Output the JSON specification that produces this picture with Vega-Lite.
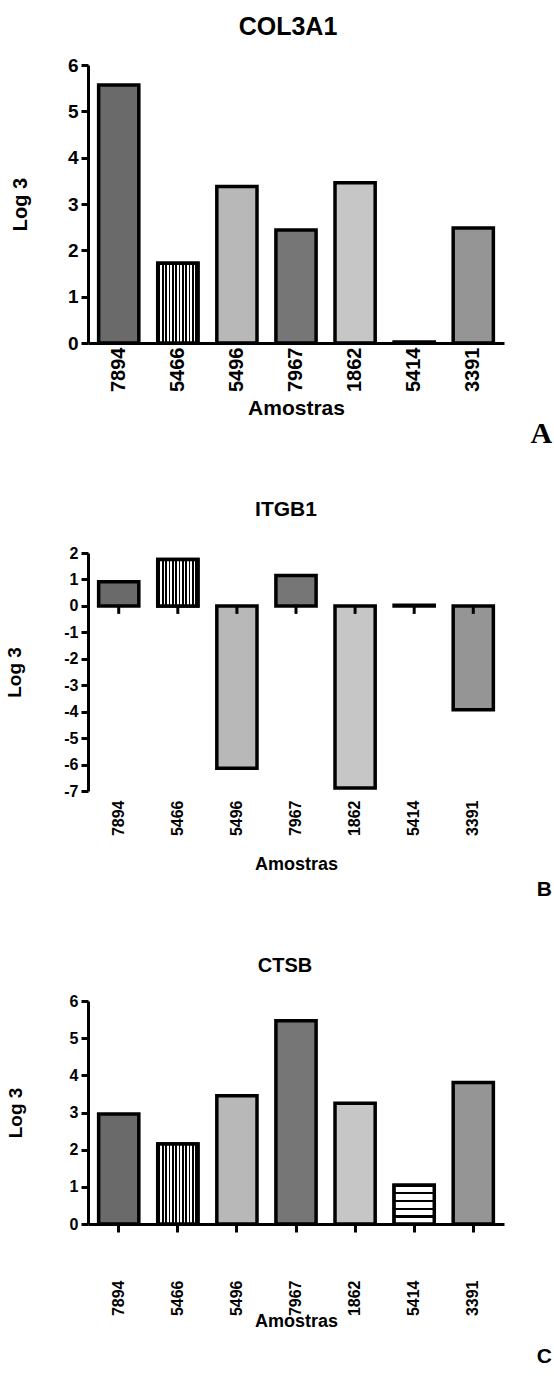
{
  "$schema": "https://vega.github.io/schema/vega-lite/v6.json",
  "padding": {"left": 5, "top": 15, "right": 0, "bottom": 5},
  "background": "white",
  "config": {
    "view": {"stroke": null},
    "font": "Liberation Sans",
    "axis": {
      "labelFont": "Liberation Sans", "labelFontWeight": "bold", "labelColor": "black", "labelOverlap": false,
      "titleFont": "Liberation Sans", "titleFontWeight": "bold", "titleColor": "black",
      "domainColor": "black", "domainWidth": 3, "tickColor": "black", "tickWidth": 3, "grid": false
    },
    "title": {"font": "Liberation Sans", "fontWeight": "bold", "color": "black", "anchor": "middle", "frame": "group"}
  },
  "datasets": {
    "col3a1": [
      {"sample": "7894", "value": 5.57},
      {"sample": "5466", "value": 1.72},
      {"sample": "5496", "value": 3.38},
      {"sample": "7967", "value": 2.44},
      {"sample": "1862", "value": 3.46},
      {"sample": "5414", "value": 0.02},
      {"sample": "3391", "value": 2.48}
    ],
    "itgb1": [
      {"sample": "7894", "value": 0.91},
      {"sample": "5466", "value": 1.75},
      {"sample": "5496", "value": -6.14},
      {"sample": "7967", "value": 1.15},
      {"sample": "1862", "value": -6.89},
      {"sample": "5414", "value": 0.02},
      {"sample": "3391", "value": -3.93}
    ],
    "ctsb": [
      {"sample": "7894", "value": 2.96},
      {"sample": "5466", "value": 2.15},
      {"sample": "5496", "value": 3.45},
      {"sample": "7967", "value": 5.47},
      {"sample": "1862", "value": 3.25},
      {"sample": "5414", "value": 1.04},
      {"sample": "3391", "value": 3.81}
    ]
  },
  "bounds": "flush",
  "spacing": 210,
  "vconcat": [
    {
      "width": 416, "height": 278,
      "title": {"text": "COL3A1", "fontSize": 25, "offset": 16, "dx": -8},
      "layer": [
        {
          "data": {"name": "col3a1"},
          "mark": {"type": "bar", "stroke": "black", "strokeWidth": 3.5},
          "encoding": {
            "x": {"field": "sample", "type": "nominal",
              "scale": {"domain": ["7894","5466","5496","7967","1862","5414","3391"], "paddingInner": 0.32, "paddingOuter": 0.18},
              "axis": {"title": "Amostras", "labelAngle": -90, "labelFontSize": 20, "ticks": false, "tickSize": 0, "labelPadding": 4, "titleFontSize": 21, "titlePadding": 6}},
            "y": {"field": "value", "type": "quantitative",
              "scale": {"domain": [0, 6], "nice": false},
              "axis": {"title": "Log 3", "values": [0,1,2,3,4,5,6], "tickCount": 7, "labelOverlap": false, "labelFontSize": 19, "tickSize": 7, "labelPadding": 3, "titleFontSize": 20, "titlePadding": 37}},
            "fill": {"field": "sample", "type": "nominal", "legend": null,
              "scale": {"domain": ["7894","5466","5496","7967","1862","5414","3391"],
                "range": ["#6a6a6a", "#ffffff", "#b8b8b8", "#767676", "#c6c6c6", "#888888", "#959595"]}}
          }
        },
        {
          "data": {"name": "col3a1"},
          "transform": [{"filter": "datum.sample == '5466'"}],
          "mark": {"type": "bar", "stroke": "black", "strokeWidth": 3.5,
            "fill": {"gradient": "linear", "x1": 0, "y1": 0, "x2": 1, "y2": 0, "stops": [
              {"offset": 0, "color": "white"},
              {"offset": 0.0217, "color": "white"}, {"offset": 0.0217, "color": "black"}, {"offset": 0.0617, "color": "black"}, {"offset": 0.0617, "color": "white"},
              {"offset": 0.105, "color": "white"}, {"offset": 0.105, "color": "black"}, {"offset": 0.145, "color": "black"}, {"offset": 0.145, "color": "white"},
              {"offset": 0.1883, "color": "white"}, {"offset": 0.1883, "color": "black"}, {"offset": 0.2283, "color": "black"}, {"offset": 0.2283, "color": "white"},
              {"offset": 0.2717, "color": "white"}, {"offset": 0.2717, "color": "black"}, {"offset": 0.3117, "color": "black"}, {"offset": 0.3117, "color": "white"},
              {"offset": 0.355, "color": "white"}, {"offset": 0.355, "color": "black"}, {"offset": 0.395, "color": "black"}, {"offset": 0.395, "color": "white"},
              {"offset": 0.4383, "color": "white"}, {"offset": 0.4383, "color": "black"}, {"offset": 0.4783, "color": "black"}, {"offset": 0.4783, "color": "white"},
              {"offset": 0.5217, "color": "white"}, {"offset": 0.5217, "color": "black"}, {"offset": 0.5617, "color": "black"}, {"offset": 0.5617, "color": "white"},
              {"offset": 0.605, "color": "white"}, {"offset": 0.605, "color": "black"}, {"offset": 0.645, "color": "black"}, {"offset": 0.645, "color": "white"},
              {"offset": 0.6883, "color": "white"}, {"offset": 0.6883, "color": "black"}, {"offset": 0.7283, "color": "black"}, {"offset": 0.7283, "color": "white"},
              {"offset": 0.7717, "color": "white"}, {"offset": 0.7717, "color": "black"}, {"offset": 0.8117, "color": "black"}, {"offset": 0.8117, "color": "white"},
              {"offset": 0.855, "color": "white"}, {"offset": 0.855, "color": "black"}, {"offset": 0.895, "color": "black"}, {"offset": 0.895, "color": "white"},
              {"offset": 0.9383, "color": "white"}, {"offset": 0.9383, "color": "black"}, {"offset": 0.9783, "color": "black"}, {"offset": 0.9783, "color": "white"},
              {"offset": 1, "color": "white"}
            ]}},
          "encoding": {
            "x": {"field": "sample", "type": "nominal"},
            "y": {"field": "value", "type": "quantitative"}
          }
        },
        {
          "data": {"values": [{"letter": "A"}]},
          "mark": {"type": "text", "font": "Liberation Serif", "fontWeight": "bold", "fontSize": 30, "align": "center", "baseline": "middle", "dx": 68, "dy": 91},
          "encoding": {
            "x": {"datum": "3391", "type": "nominal"},
            "y": {"datum": 0, "type": "quantitative"},
            "text": {"field": "letter"}
          }
        }
      ]
    },
    {
      "width": 416, "height": 238,
      "title": {"text": "ITGB1", "fontSize": 21, "offset": 25, "dx": -10},
      "layer": [
        {
          "data": {"name": "itgb1"},
          "mark": {"type": "bar", "stroke": "black", "strokeWidth": 3.5},
          "encoding": {
            "x": {"field": "sample", "type": "nominal",
              "scale": {"domain": ["7894","5466","5496","7967","1862","5414","3391"], "paddingInner": 0.32, "paddingOuter": 0.18},
              "axis": {"title": "Amostras", "labelAngle": -90, "labelFontSize": 16, "domain": false, "ticks": false, "tickSize": 0, "labelPadding": 9, "titleFontSize": 18, "titlePadding": 20}},
            "y": {"field": "value", "type": "quantitative",
              "scale": {"domain": [-7, 2], "nice": false},
              "axis": {"title": "Log 3", "values": [-7,-6,-5,-4,-3,-2,-1,0,1,2], "tickCount": 10, "labelOverlap": false, "labelExpr": "datum.value + ''", "labelFontSize": 16, "tickSize": 7, "labelPadding": 3, "titleFontSize": 19, "titlePadding": 39}},
            "fill": {"field": "sample", "type": "nominal", "legend": null,
              "scale": {"domain": ["7894","5466","5496","7967","1862","5414","3391"],
                "range": ["#6a6a6a", "#ffffff", "#b8b8b8", "#767676", "#c6c6c6", "#888888", "#959595"]}}
          }
        },
        {
          "data": {"name": "itgb1"},
          "transform": [{"filter": "datum.sample == '5466'"}],
          "mark": {"type": "bar", "stroke": "black", "strokeWidth": 3.5,
            "fill": {"gradient": "linear", "x1": 0, "y1": 0, "x2": 1, "y2": 0, "stops": [
              {"offset": 0, "color": "white"},
              {"offset": 0.0217, "color": "white"}, {"offset": 0.0217, "color": "black"}, {"offset": 0.0617, "color": "black"}, {"offset": 0.0617, "color": "white"},
              {"offset": 0.105, "color": "white"}, {"offset": 0.105, "color": "black"}, {"offset": 0.145, "color": "black"}, {"offset": 0.145, "color": "white"},
              {"offset": 0.1883, "color": "white"}, {"offset": 0.1883, "color": "black"}, {"offset": 0.2283, "color": "black"}, {"offset": 0.2283, "color": "white"},
              {"offset": 0.2717, "color": "white"}, {"offset": 0.2717, "color": "black"}, {"offset": 0.3117, "color": "black"}, {"offset": 0.3117, "color": "white"},
              {"offset": 0.355, "color": "white"}, {"offset": 0.355, "color": "black"}, {"offset": 0.395, "color": "black"}, {"offset": 0.395, "color": "white"},
              {"offset": 0.4383, "color": "white"}, {"offset": 0.4383, "color": "black"}, {"offset": 0.4783, "color": "black"}, {"offset": 0.4783, "color": "white"},
              {"offset": 0.5217, "color": "white"}, {"offset": 0.5217, "color": "black"}, {"offset": 0.5617, "color": "black"}, {"offset": 0.5617, "color": "white"},
              {"offset": 0.605, "color": "white"}, {"offset": 0.605, "color": "black"}, {"offset": 0.645, "color": "black"}, {"offset": 0.645, "color": "white"},
              {"offset": 0.6883, "color": "white"}, {"offset": 0.6883, "color": "black"}, {"offset": 0.7283, "color": "black"}, {"offset": 0.7283, "color": "white"},
              {"offset": 0.7717, "color": "white"}, {"offset": 0.7717, "color": "black"}, {"offset": 0.8117, "color": "black"}, {"offset": 0.8117, "color": "white"},
              {"offset": 0.855, "color": "white"}, {"offset": 0.855, "color": "black"}, {"offset": 0.895, "color": "black"}, {"offset": 0.895, "color": "white"},
              {"offset": 0.9383, "color": "white"}, {"offset": 0.9383, "color": "black"}, {"offset": 0.9783, "color": "black"}, {"offset": 0.9783, "color": "white"},
              {"offset": 1, "color": "white"}
            ]}},
          "encoding": {
            "x": {"field": "sample", "type": "nominal"},
            "y": {"field": "value", "type": "quantitative"}
          }
        },
        {
          "mark": {"type": "rule", "color": "black", "strokeWidth": 3},
          "encoding": {"y": {"datum": 0, "type": "quantitative"}}
        },
        {
          "data": {"name": "itgb1"},
          "mark": {"type": "tick", "orient": "vertical", "color": "black", "opacity": 1, "size": 8, "thickness": 3, "yOffset": 4},
          "encoding": {
            "x": {"field": "sample", "type": "nominal"},
            "y": {"datum": 0, "type": "quantitative"}
          }
        },
        {
          "data": {"values": [{"letter": "B"}]},
          "mark": {"type": "text", "font": "Liberation Sans", "fontWeight": "bold", "fontSize": 21, "align": "center", "baseline": "middle", "dx": 71, "dy": 99},
          "encoding": {
            "x": {"datum": "3391", "type": "nominal"},
            "y": {"datum": -7, "type": "quantitative"},
            "text": {"field": "letter"}
          }
        }
      ]
    },
    {
      "width": 416, "height": 223,
      "title": {"text": "CTSB", "fontSize": 20, "offset": 17, "dx": -11},
      "layer": [
        {
          "data": {"name": "ctsb"},
          "mark": {"type": "bar", "stroke": "black", "strokeWidth": 3.5},
          "encoding": {
            "x": {"field": "sample", "type": "nominal",
              "scale": {"domain": ["7894","5466","5496","7967","1862","5414","3391"], "paddingInner": 0.32, "paddingOuter": 0.18},
              "axis": {"title": "Amostras", "labelAngle": -90, "labelFontSize": 16, "tickSize": 8, "labelPadding": 48, "titleFontSize": 18, "titlePadding": -3}},
            "y": {"field": "value", "type": "quantitative",
              "scale": {"domain": [0, 6], "nice": false},
              "axis": {"title": "Log 3", "values": [0,1,2,3,4,5,6], "tickCount": 7, "labelOverlap": false, "labelFontSize": 16, "tickSize": 7, "labelPadding": 3, "titleFontSize": 19, "titlePadding": 44}},
            "fill": {"field": "sample", "type": "nominal", "legend": null,
              "scale": {"domain": ["7894","5466","5496","7967","1862","5414","3391"],
                "range": ["#6a6a6a", "#ffffff", "#b8b8b8", "#767676", "#c6c6c6", "#ffffff", "#959595"]}}
          }
        },
        {
          "data": {"name": "ctsb"},
          "transform": [{"filter": "datum.sample == '5466'"}],
          "mark": {"type": "bar", "stroke": "black", "strokeWidth": 3.5,
            "fill": {"gradient": "linear", "x1": 0, "y1": 0, "x2": 1, "y2": 0, "stops": [
              {"offset": 0, "color": "white"},
              {"offset": 0.0217, "color": "white"}, {"offset": 0.0217, "color": "black"}, {"offset": 0.0617, "color": "black"}, {"offset": 0.0617, "color": "white"},
              {"offset": 0.105, "color": "white"}, {"offset": 0.105, "color": "black"}, {"offset": 0.145, "color": "black"}, {"offset": 0.145, "color": "white"},
              {"offset": 0.1883, "color": "white"}, {"offset": 0.1883, "color": "black"}, {"offset": 0.2283, "color": "black"}, {"offset": 0.2283, "color": "white"},
              {"offset": 0.2717, "color": "white"}, {"offset": 0.2717, "color": "black"}, {"offset": 0.3117, "color": "black"}, {"offset": 0.3117, "color": "white"},
              {"offset": 0.355, "color": "white"}, {"offset": 0.355, "color": "black"}, {"offset": 0.395, "color": "black"}, {"offset": 0.395, "color": "white"},
              {"offset": 0.4383, "color": "white"}, {"offset": 0.4383, "color": "black"}, {"offset": 0.4783, "color": "black"}, {"offset": 0.4783, "color": "white"},
              {"offset": 0.5217, "color": "white"}, {"offset": 0.5217, "color": "black"}, {"offset": 0.5617, "color": "black"}, {"offset": 0.5617, "color": "white"},
              {"offset": 0.605, "color": "white"}, {"offset": 0.605, "color": "black"}, {"offset": 0.645, "color": "black"}, {"offset": 0.645, "color": "white"},
              {"offset": 0.6883, "color": "white"}, {"offset": 0.6883, "color": "black"}, {"offset": 0.7283, "color": "black"}, {"offset": 0.7283, "color": "white"},
              {"offset": 0.7717, "color": "white"}, {"offset": 0.7717, "color": "black"}, {"offset": 0.8117, "color": "black"}, {"offset": 0.8117, "color": "white"},
              {"offset": 0.855, "color": "white"}, {"offset": 0.855, "color": "black"}, {"offset": 0.895, "color": "black"}, {"offset": 0.895, "color": "white"},
              {"offset": 0.9383, "color": "white"}, {"offset": 0.9383, "color": "black"}, {"offset": 0.9783, "color": "black"}, {"offset": 0.9783, "color": "white"},
              {"offset": 1, "color": "white"}
            ]}},
          "encoding": {
            "x": {"field": "sample", "type": "nominal"},
            "y": {"field": "value", "type": "quantitative"}
          }
        },
        {
          "data": {"name": "ctsb"},
          "transform": [{"filter": "datum.sample == '5414'"}],
          "mark": {"type": "bar", "stroke": "black", "strokeWidth": 3.5,
            "fill": {"gradient": "linear", "x1": 0, "y1": 0, "x2": 0, "y2": 1, "stops": [
              {"offset": 0, "color": "white"},
              {"offset": 0.17, "color": "white"}, {"offset": 0.17, "color": "black"}, {"offset": 0.23, "color": "black"}, {"offset": 0.23, "color": "white"},
              {"offset": 0.37, "color": "white"}, {"offset": 0.37, "color": "black"}, {"offset": 0.44, "color": "black"}, {"offset": 0.44, "color": "white"},
              {"offset": 0.58, "color": "white"}, {"offset": 0.58, "color": "black"}, {"offset": 0.64, "color": "black"}, {"offset": 0.64, "color": "white"},
              {"offset": 0.78, "color": "white"}, {"offset": 0.78, "color": "black"}, {"offset": 0.84, "color": "black"}, {"offset": 0.84, "color": "white"},
              {"offset": 1, "color": "white"}
            ]}},
          "encoding": {
            "x": {"field": "sample", "type": "nominal"},
            "y": {"field": "value", "type": "quantitative"}
          }
        },
        {
          "data": {"values": [{"letter": "C"}]},
          "mark": {"type": "text", "font": "Liberation Sans", "fontWeight": "bold", "fontSize": 21, "align": "center", "baseline": "middle", "dx": 71, "dy": 133},
          "encoding": {
            "x": {"datum": "3391", "type": "nominal"},
            "y": {"datum": 0, "type": "quantitative"},
            "text": {"field": "letter"}
          }
        }
      ]
    }
  ]
}
